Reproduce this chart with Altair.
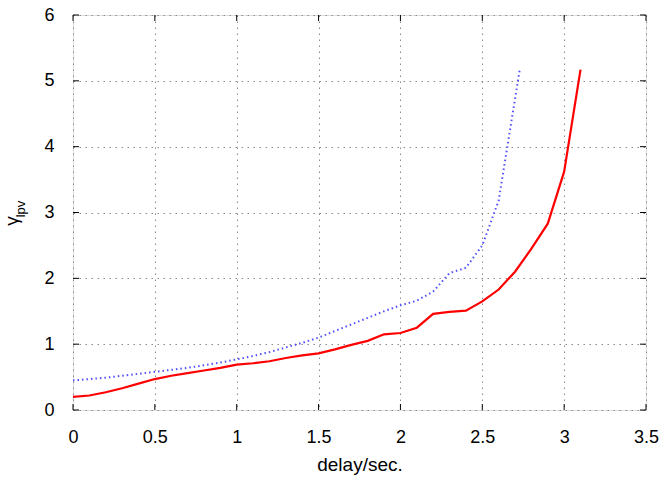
import altair as alt
import pandas as pd

red_x = [0.0, 0.1, 0.2, 0.3, 0.4, 0.5, 0.6, 0.7, 0.8, 0.9, 1.0, 1.1, 1.2, 1.3, 1.4, 1.5,
         1.6, 1.7, 1.8, 1.9, 2.0, 2.1, 2.2, 2.3, 2.4, 2.5, 2.6, 2.7, 2.8, 2.9, 3.0, 3.1]
red_y = [0.20, 0.22, 0.27, 0.33, 0.40, 0.47, 0.52, 0.56, 0.60, 0.64, 0.69, 0.71, 0.74, 0.79, 0.83, 0.86,
         0.92, 0.99, 1.05, 1.15, 1.17, 1.25, 1.46, 1.49, 1.51, 1.65, 1.83, 2.10, 2.45, 2.83, 3.62, 5.17]

blue_x = [0.0, 0.1, 0.2, 0.3, 0.4, 0.5, 0.6, 0.7, 0.8, 0.9, 1.0, 1.1, 1.2, 1.3, 1.4, 1.5,
          1.6, 1.7, 1.8, 1.9, 2.0, 2.1, 2.2, 2.3, 2.4, 2.5, 2.6, 2.73]
blue_y = [0.45, 0.47, 0.49, 0.52, 0.55, 0.58, 0.61, 0.64, 0.68, 0.72, 0.77, 0.82, 0.88, 0.95, 1.02, 1.10,
          1.20, 1.30, 1.40, 1.50, 1.59, 1.66, 1.80, 2.08, 2.16, 2.50, 3.18, 5.19]

x_ticks = [0, 0.5, 1, 1.5, 2, 2.5, 3, 3.5]
y_ticks = [0, 1, 2, 3, 4, 5, 6]

W, H = 573, 395

red_df = pd.DataFrame({"x": red_x, "y": red_y})
blue_df = pd.DataFrame({"x": blue_x, "y": blue_y})
xt_df = pd.DataFrame({"t": x_ticks})
yt_df = pd.DataFrame({"t": y_ticks})

xscale = alt.Scale(domain=[0, 3.5], nice=False, zero=False)
yscale = alt.Scale(domain=[0, 6], nice=False, zero=False)

xaxis = alt.Axis(values=x_ticks, format="~g", title="delay/sec.", grid=True,
                 gridDash=[1.5, 4.5], gridColor="#8a8a8a", gridWidth=1,
                 ticks=False, domain=False, labelPadding=18, labelFlush=False,
                 labelOverlap=False, labelFontSize=18, labelFont="Liberation Sans",
                 labelColor="black", titleFontSize=19, titleFont="Liberation Sans",
                 titleFontWeight="normal", titleColor="black", titlePadding=9)
yaxis = alt.Axis(values=y_ticks, format="~g", title=None, grid=True,
                 gridDash=[1.5, 4.5], gridColor="#8a8a8a", gridWidth=1,
                 ticks=False, domain=False, labelPadding=19, labelFlush=False,
                 labelOverlap=False, labelFontSize=18, labelFont="Liberation Sans",
                 labelColor="black")

base_blue = alt.Chart(blue_df).mark_line(color="#4f4fff", strokeWidth=2,
                                          strokeDash=[1.5, 3]).encode(
    x=alt.X("x:Q", scale=xscale, axis=xaxis),
    y=alt.Y("y:Q", scale=yscale, axis=yaxis),
)
red_line = alt.Chart(red_df).mark_line(color="#ff0000", strokeWidth=2.2).encode(
    x=alt.X("x:Q", scale=xscale),
    y=alt.Y("y:Q", scale=yscale),
)

tick_bottom = alt.Chart(xt_df).mark_rule(color="black", strokeWidth=1).encode(
    x=alt.X("t:Q", scale=xscale), y=alt.value(H), y2=alt.value(H - 6))
tick_top = alt.Chart(xt_df).mark_rule(color="black", strokeWidth=1).encode(
    x=alt.X("t:Q", scale=xscale), y=alt.value(0), y2=alt.value(6))
tick_left = alt.Chart(yt_df).mark_rule(color="black", strokeWidth=1).encode(
    y=alt.Y("t:Q", scale=yscale), x=alt.value(0), x2=alt.value(6))
tick_right = alt.Chart(yt_df).mark_rule(color="black", strokeWidth=1).encode(
    y=alt.Y("t:Q", scale=yscale), x=alt.value(W), x2=alt.value(W - 6))

one = alt.Data(values=[{"a": 1}])
gamma = alt.Chart(one).mark_text(text="γ", angle=270, align="center",
                                 baseline="alphabetic", fontSize=19,
                                 font="Liberation Sans", color="black").encode(
    x=alt.value(-55), y=alt.value(206))
sub = alt.Chart(one).mark_text(text="lpv", angle=270, align="center",
                               baseline="alphabetic", fontSize=13,
                               font="Liberation Sans", color="black").encode(
    x=alt.value(-48), y=alt.value(194))

chart = alt.layer(base_blue, red_line, tick_bottom, tick_top, tick_left, tick_right,
                  gamma, sub).properties(
    width=W, height=H,
    padding={"left": 73, "top": 15, "right": 15, "bottom": 74},
    autosize=alt.AutoSizeParams(type="none"),
).configure_view(stroke="black", strokeWidth=1.2).configure(background="white")

chart.save("out.html", embed_options={"renderer": "svg", "actions": False})
